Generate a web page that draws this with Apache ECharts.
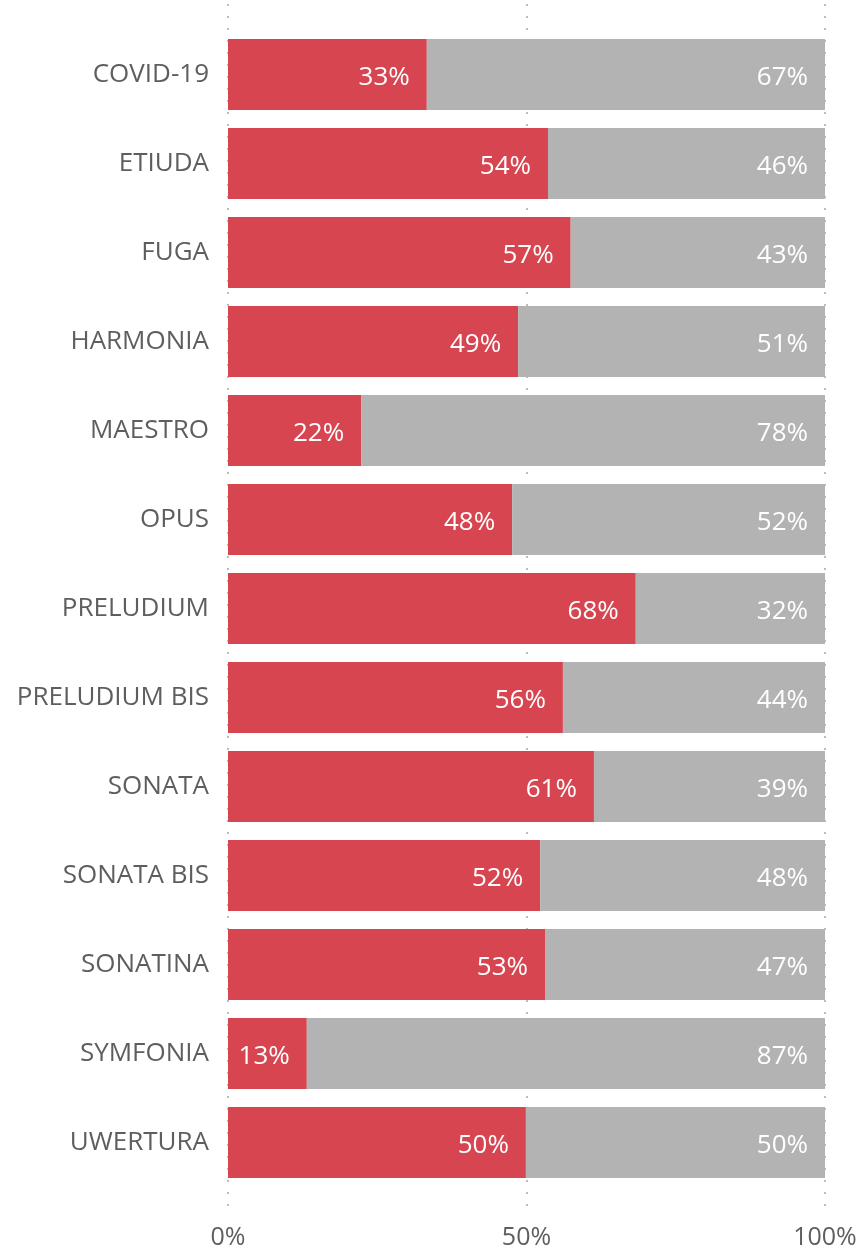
<!DOCTYPE html>
<html>
<head>
<meta charset="utf-8">
<script src="https://cdn.jsdelivr.net/npm/echarts@6/dist/echarts.min.js"></script>
<style>
html,body{margin:0;padding:0;background:#fff;}
#chart{width:856px;height:1249px;}
</style>
</head>
<body>
<div id="chart"></div>
<script>
const categories = ['COVID-19','ETIUDA','FUGA','HARMONIA','MAESTRO','OPUS','PRELUDIUM','PRELUDIUM BIS','SONATA','SONATA BIS','SONATINA','SYMFONIA','UWERTURA'];
const redValues = [33.3, 53.6, 57.4, 48.6, 22.3, 47.6, 68.3, 56.1, 61.3, 52.3, 53.1, 13.2, 49.9];
const grayValues = [66.7, 46.4, 42.6, 51.4, 77.7, 52.4, 31.7, 43.9, 38.7, 47.7, 46.9, 86.8, 50.1];
const xTicks = [0, 50, 100];

const FONT = '"Open Sans", "Noto Sans", sans-serif';
const chart = echarts.init(document.getElementById('chart'), null, {renderer: 'canvas'});
const labelCfg = {
  show: true,
  position: 'insideRight',
  distance: 17,
  offset: [0, 3],
  color: '#ffffff',
  fontFamily: FONT,
  fontSize: 26,
  formatter: p => Math.round(p.value) + '%'
};
chart.setOption({
  animation: false,
  grid: [
    {left: 228, right: 31, top: 30, bottom: 62, containLabel: false, outerBoundsMode: 'none'},
    {left: 228, right: 31, top: 4, bottom: 34, containLabel: false, outerBoundsMode: 'none'}
  ],
  xAxis: [
    {
      gridIndex: 0, type: 'value', min: 0, max: 100, interval: 50,
      axisLine: {show: false}, axisTick: {show: false}, splitLine: {show: false},
      axisLabel: {color: '#605E5C', fontFamily: FONT, fontSize: 25, margin: 38,
        formatter: v => xTicks.includes(v) ? v + '%' : ''}
    },
    {
      gridIndex: 1, type: 'value', min: 0, max: 100, interval: 50,
      axisLine: {show: false}, axisTick: {show: false}, axisLabel: {show: false},
      splitLine: {show: true, lineStyle: {color: '#bdbdbd', width: 2, type: [2, 10]}}
    }
  ],
  yAxis: [
    {
      gridIndex: 0, type: 'category', data: categories, inverse: true,
      axisLine: {show: false}, axisTick: {show: false},
      axisLabel: {color: '#605E5C', fontFamily: FONT, fontSize: 26, margin: 19, padding: [2, 0, 0, 0]}
    },
    {
      gridIndex: 1, type: 'category', data: categories, inverse: true, show: false
    }
  ],
  series: [
    {
      name: 'red', type: 'bar', stack: 'total', xAxisIndex: 0, yAxisIndex: 0,
      data: redValues, barCategoryGap: '20.5%', z: 3,
      itemStyle: {color: '#D64550'}, label: labelCfg
    },
    {
      name: 'gray', type: 'bar', stack: 'total', xAxisIndex: 0, yAxisIndex: 0,
      data: grayValues, barCategoryGap: '20.5%', z: 3,
      itemStyle: {color: '#B3B3B3'}, label: labelCfg
    }
  ]
});
</script>
</body>
</html>
